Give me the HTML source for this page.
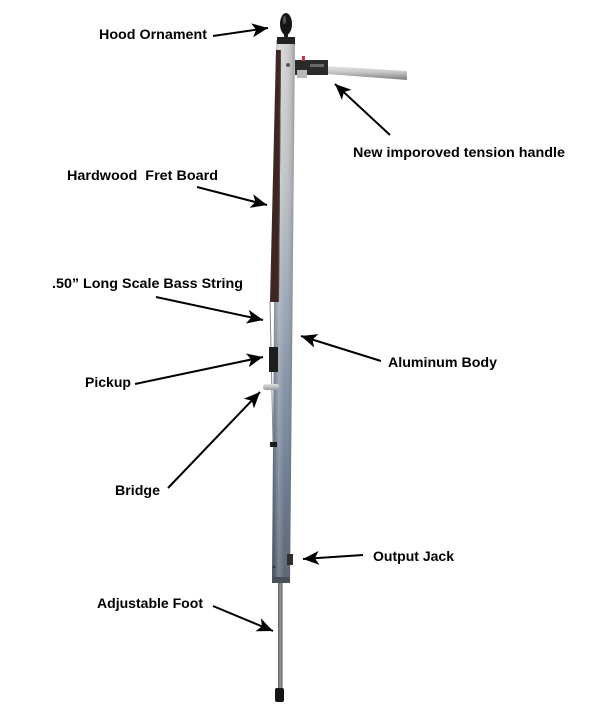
<!DOCTYPE html>
<html>
<head>
<meta charset="utf-8">
<style>
  html,body{margin:0;padding:0;background:#fff;}
  svg{display:block;}
  text{font-family:"Liberation Sans",Arial,sans-serif;font-weight:bold;font-size:14px;fill:#000;}
</style>
</head>
<body>
<svg width="600" height="720" viewBox="0 0 600 720" xmlns="http://www.w3.org/2000/svg">
  <defs>
    <linearGradient id="poleV" x1="0" y1="40" x2="0" y2="583" gradientUnits="userSpaceOnUse">
      <stop offset="0" stop-color="#d2d2d2"/>
      <stop offset="0.28" stop-color="#bcc0c5"/>
      <stop offset="0.5" stop-color="#98a3b2"/>
      <stop offset="0.68" stop-color="#7b8a9f"/>
      <stop offset="0.85" stop-color="#657287"/>
      <stop offset="1" stop-color="#555e6c"/>
    </linearGradient>
    <linearGradient id="poleH" x1="0" y1="0" x2="1" y2="0">
      <stop offset="0" stop-color="#000" stop-opacity="0.2"/>
      <stop offset="0.3" stop-color="#fff" stop-opacity="0.22"/>
      <stop offset="0.55" stop-color="#fff" stop-opacity="0.04"/>
      <stop offset="1" stop-color="#000" stop-opacity="0.25"/>
    </linearGradient>
    <linearGradient id="rod" x1="0" y1="0" x2="0" y2="1">
      <stop offset="0" stop-color="#e4e4e4"/>
      <stop offset="0.45" stop-color="#c6c6c6"/>
      <stop offset="1" stop-color="#7c7c7c"/>
    </linearGradient>
    <linearGradient id="foot" x1="0" y1="0" x2="1" y2="0">
      <stop offset="0" stop-color="#5a5a5a"/>
      <stop offset="0.5" stop-color="#9a9a9a"/>
      <stop offset="1" stop-color="#555"/>
    </linearGradient>
    <linearGradient id="bridge" x1="0" y1="0" x2="0" y2="1">
      <stop offset="0" stop-color="#e4e4e4"/>
      <stop offset="1" stop-color="#9a9a9a"/>
    </linearGradient>
    <marker id="ah" markerUnits="userSpaceOnUse" markerWidth="18" markerHeight="14" refX="16" refY="7" orient="auto">
      <path d="M0,0 L16,7 L0,14 L4,7 z" fill="#000"/>
    </marker>
  </defs>

  <!-- foot rod -->
  <rect x="278" y="583" width="4.5" height="108" fill="url(#foot)"/>
  <rect x="275" y="688" width="9" height="14" rx="2" fill="#151515"/>

  <!-- pole -->
  <polygon points="276,40 295,40 290,583 272,583" fill="url(#poleV)"/>
  <polygon points="276,40 295,40 290,583 272,583" fill="url(#poleH)"/>
  <rect x="272" y="577" width="18" height="6" fill="#4a505a"/>
  <circle cx="274" cy="567" r="1.4" fill="#333"/>

  <!-- fretboard -->
  <polygon points="276,50 281,50 279,302 270,302" fill="#3e2723"/>
  <polygon points="280,50 281,50 279,302 278,302" fill="#5e423a"/>

  <!-- string -->
  <line x1="270" y1="302" x2="273" y2="442" stroke="#8a8a8a" stroke-width="1"/>

  <!-- pickup -->
  <rect x="269" y="347" width="9" height="25" fill="#1e1e1e"/>
  <!-- bridge -->
  <rect x="263" y="384" width="16" height="6" rx="2.5" fill="url(#bridge)"/>
  <!-- tailpiece -->
  <rect x="270" y="442" width="7" height="5" fill="#1a1a1a"/>

  <!-- output jack -->
  <rect x="287" y="554" width="6" height="11" fill="#2e2e2e"/>

  <!-- hood ornament -->
  <rect x="277" y="37" width="18" height="7" fill="#222"/>
  <rect x="284" y="33" width="4" height="5" fill="#222"/>
  <ellipse cx="286" cy="24" rx="6" ry="11" fill="#161616"/>
  <ellipse cx="284.5" cy="20" rx="1.5" ry="4" fill="#555"/>

  <!-- screw -->
  <circle cx="288" cy="65" r="2" fill="#555"/>

  <!-- tension handle -->
  <polygon points="327,66 407,71 407,80 327,74" fill="url(#rod)"/>
  <rect x="295" y="60" width="33" height="15" fill="#2a2a2a"/>
  <rect x="310" y="64" width="14" height="3" fill="#6a6a6a"/>
  <rect x="302" y="56" width="3" height="5" fill="#c03548"/>
  <rect x="297" y="70" width="10" height="8" fill="#b8b8b8"/>

  <!-- arrows -->
  <g stroke="#000" stroke-width="2" fill="none">
    <line x1="213" y1="36" x2="268" y2="28" marker-end="url(#ah)"/>
    <line x1="390" y1="135" x2="335" y2="84" marker-end="url(#ah)"/>
    <line x1="197" y1="187" x2="267" y2="205" marker-end="url(#ah)"/>
    <line x1="156" y1="297" x2="263" y2="320" marker-end="url(#ah)"/>
    <line x1="381" y1="361" x2="301" y2="336" marker-end="url(#ah)"/>
    <line x1="135" y1="384" x2="263" y2="357" marker-end="url(#ah)"/>
    <line x1="168" y1="488" x2="260" y2="392" marker-end="url(#ah)"/>
    <line x1="363" y1="555" x2="303" y2="559" marker-end="url(#ah)"/>
    <line x1="213" y1="606" x2="273" y2="631" marker-end="url(#ah)"/>
  </g>

  <!-- labels -->
  <text x="99" y="39" textLength="108" lengthAdjust="spacingAndGlyphs">Hood Ornament</text>
  <text x="353" y="157" textLength="212" lengthAdjust="spacingAndGlyphs">New imporoved tension handle</text>
  <text x="67" y="180" textLength="151" lengthAdjust="spacingAndGlyphs" xml:space="preserve">Hardwood  Fret Board</text>
  <text x="52" y="288" textLength="191" lengthAdjust="spacingAndGlyphs">.50” Long Scale Bass String</text>
  <text x="388" y="367" textLength="109" lengthAdjust="spacingAndGlyphs">Aluminum Body</text>
  <text x="85" y="387" textLength="46" lengthAdjust="spacingAndGlyphs">Pickup</text>
  <text x="115" y="495" textLength="45" lengthAdjust="spacingAndGlyphs">Bridge</text>
  <text x="373" y="561" textLength="81" lengthAdjust="spacingAndGlyphs">Output Jack</text>
  <text x="97" y="608" textLength="106" lengthAdjust="spacingAndGlyphs">Adjustable Foot</text>
</svg>
</body>
</html>
